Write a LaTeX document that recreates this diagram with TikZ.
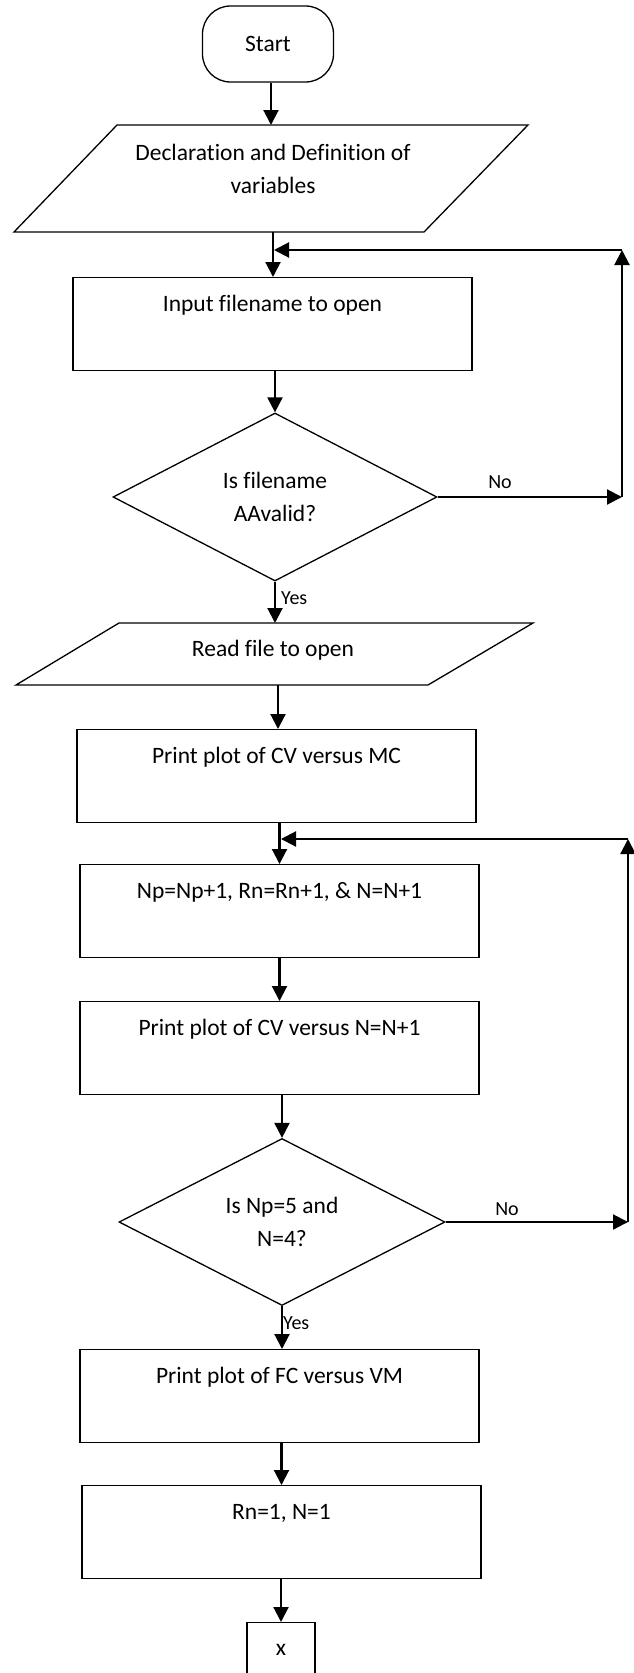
\documentclass[tikz,border=0pt]{standalone}
\usepackage{fontspec}
\setmainfont[Ligatures=NoCommon]{Carlito}
\usetikzlibrary{arrows.meta,shapes.geometric}
\begin{document}
\begin{tikzpicture}[x=1pt,y=-1pt,
  every node/.style={font=\fontsize{23.5}{33}\selectfont},
  procbox/.style={draw, line width=1.3pt, rectangle, inner sep=0pt, minimum width=399pt, text height=34pt, text depth=58.5pt, anchor=north},
  decision/.style={draw, line width=1.3pt, diamond, inner sep=0pt, aspect=1.9, align=center},
  termbox/.style={draw, line width=1.3pt, rectangle, rounded corners=28pt, minimum width=131pt, minimum height=76pt, inner sep=0pt},
  iotext/.style={align=center, inner sep=0pt},
  ioshape/.style={line width=1.3pt, line join=miter},
  arr/.style={line width=2.1pt, -{Triangle[length=15pt,width=15pt]}},
  lbl/.style={font=\fontsize{20}{24}\selectfont, inner sep=0pt}
]
\useasboundingbox (0,0) rectangle (634,1673);

% Start
\node[termbox] (start) at (268,44) {Start};

% Parallelogram 1
\coordinate (p1a) at (117,125);
\coordinate (p1b) at (528,125);
\coordinate (p1c) at (424,232);
\coordinate (p1d) at (14,232);
\draw[ioshape] (p1a) -- (p1b) -- (p1c) -- (p1d) -- cycle;
\node[iotext] (p1) at (273,168.5) {Declaration and Definition of\\variables};
\coordinate (p1n) at (273,125);
\coordinate (p1s) at (273,232);

% Input box
\node[procbox] (r1) at (272.5,277) {Input filename to open};

% Decision 1
\node[decision, minimum width=324pt, minimum height=168pt] (d1) at (275,497) {Is filename\\AAvalid?};

% Parallelogram 2
\coordinate (p2a) at (119,623);
\coordinate (p2b) at (533,623);
\coordinate (p2c) at (428,685);
\coordinate (p2d) at (16,685);
\draw[ioshape] (p2a) -- (p2b) -- (p2c) -- (p2d) -- cycle;
\node[iotext] (p2) at (273,650) {Read file to open};
\coordinate (p2n) at (275,623);
\coordinate (p2s) at (278,685);

% Boxes
\node[procbox] (r2) at (276.5,729) {Print plot of CV versus MC};
\node[procbox] (r3) at (279.5,864) {Np=Np+1, Rn=Rn+1, \& N=N+1};
\node[procbox] (r4) at (279.5,1001) {Print plot of CV versus N=N+1};

% Decision 2
\node[decision, minimum width=326pt, minimum height=167pt] (d2) at (282,1222) {Is Np=5 and\\N=4?};

\node[procbox] (r5) at (279.5,1349) {Print plot of FC versus VM};
\node[procbox] (r6) at (281.5,1485) {Rn=1, N=1};

% Final box
\node[draw, line width=1.3pt, inner sep=0pt, minimum width=68pt, text height=33pt, text depth=27pt, anchor=north] (xb) at (281,1622) {x};

% Loop coordinates
\coordinate (c1) at (622,497);
\coordinate (c2) at (622,250);
\coordinate (c3) at (274,250);
\coordinate (c4) at (628,1222);
\coordinate (c5) at (628,839);
\coordinate (c6) at (281,839);

% Connectors
\draw[arr] ([xshift=3pt]start.south) -- ([xshift=3pt]start.south |- p1n);
\draw[arr] (p1s) -- (p1s |- r1.north);
\draw[arr] (d1.north |- r1.south) -- (d1.north);
\draw[arr] (d1.east) -- (c1);
\draw[arr] (c1) -- (c2);
\draw[arr] (c2) -- (c3);
\draw[arr] (d1.south) -- (d1.south |- p2n);
\draw[arr] (p2s) -- (p2s |- r2.north);
\draw[arr] (r3.north |- r2.south) -- (r3.north);
\draw[arr] (r3.south) -- (r4.north);
\draw[arr] (d2.north |- r4.south) -- (d2.north);
\draw[arr] (d2.east) -- (c4);
\draw[arr] (c4) -- (c5);
\draw[arr] (c5) -- (c6);
\draw[arr] (d2.south) -- (d2.south |- r5.north);
\draw[arr] (r6.north |- r5.south) -- (r6.north);
\draw[arr] (xb.north |- r6.south) -- (xb.north);

% Labels
\node[lbl] (no1) at (500,482) {No};
\node[lbl, anchor=west] (yes1) at (281,598) {Yes};
\node[lbl] (no2) at (507,1209) {No};
\node[lbl, anchor=west] (yes2) at (283,1323) {Yes};
\end{tikzpicture}
\end{document}
